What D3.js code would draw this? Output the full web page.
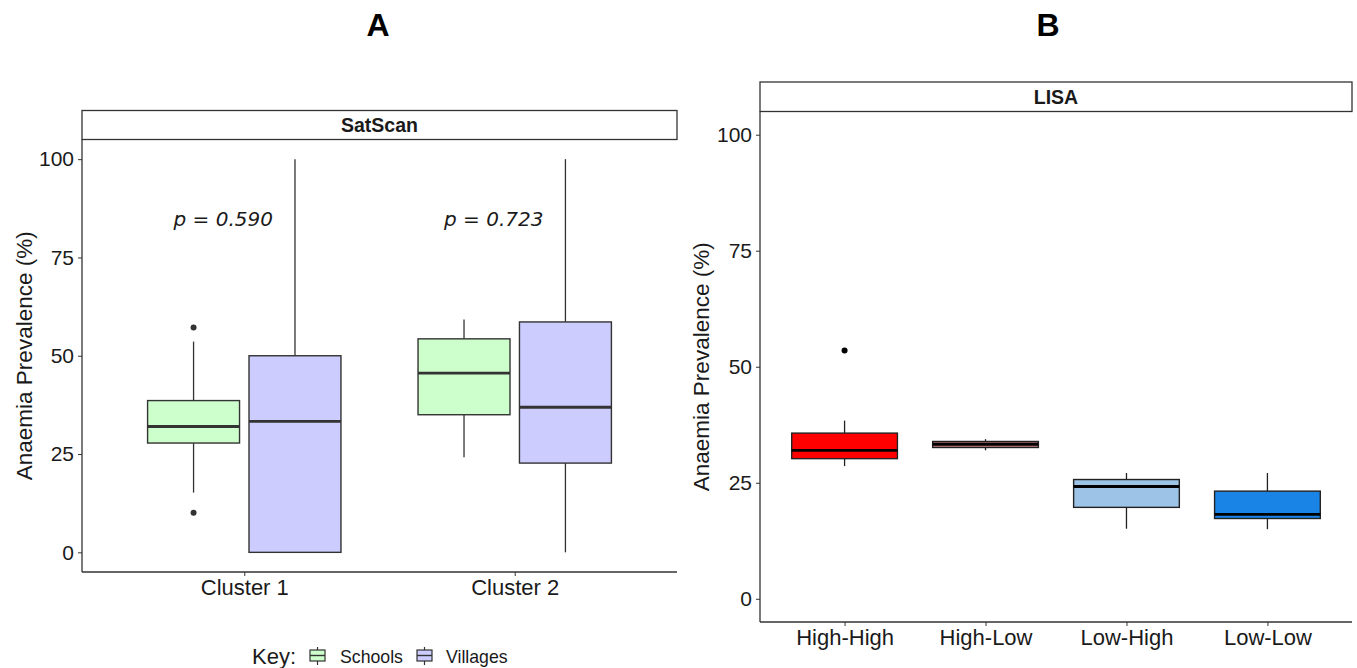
<!DOCTYPE html>
<html>
<head>
<meta charset="utf-8">
<script src="https://cdn.jsdelivr.net/npm/d3@7"></script>
<style>
  html, body { margin: 0; padding: 0; background: #ffffff; }
  svg { display: block; }
</style>
</head>
<body>
<svg id="chart" width="1357" height="668"></svg>
<script>
// ---------- DATA ----------
const clustersA = ["Cluster 1", "Cluster 2"];
const groupsA = ["Schools", "Villages"];
// [lower whisker, Q1, median, Q3, upper whisker]
const schoolsStats = [[15.2, 27.8, 32.0, 38.6, 53.6], [24.2, 35.0, 45.6, 54.3, 59.2]];
const villagesStats = [[0, 0, 33.3, 50.0, 100], [0, 22.7, 36.9, 58.6, 100]];
const schoolsOutliers = [[57.2, 10.1], []];
const villagesOutliers = [[], []];
const pLabels = ["p = 0.590", "p = 0.723"];
const pLabelValue = 84.7;
const groupColors = ["#CCFFCC", "#CCCCFF"];

const lisaCats = ["High-High", "High-Low", "Low-High", "Low-Low"];
const lisaStats = [[28.6, 30.2, 32.0, 35.7, 38.4], [32.0, 32.6, 33.3, 33.9, 34.4], [15.1, 19.7, 24.2, 25.7, 27.1], [15.0, 17.3, 18.2, 23.2, 27.1]];
const lisaOutliers = [[53.5], [], [], []];
const lisaColors = ["#FF0000", "#C27C7C", "#9DC3E6", "#1A84E6"];

const yTicks = [0, 25, 50, 75, 100];
const yTitle = "Anaemia Prevalence (%)";

// ---------- DRAW ----------
const SANS = "'Liberation Sans', Arial, Helvetica, sans-serif";
const svg = d3.select("#chart").style("font-family", SANS);

function drawBox(g, cx, w, s, fill, stroke, medStroke, outliers, y, outColor) {
  const [lo, q1, med, q3, hi] = s;
  g.append("line").attr("x1", cx).attr("x2", cx).attr("y1", y(hi)).attr("y2", y(q3))
    .attr("stroke", stroke).attr("stroke-width", 1.3);
  g.append("line").attr("x1", cx).attr("x2", cx).attr("y1", y(q1)).attr("y2", y(lo))
    .attr("stroke", stroke).attr("stroke-width", 1.3);
  g.append("rect").attr("x", cx - w / 2).attr("width", w)
    .attr("y", y(q3)).attr("height", Math.max(0, y(q1) - y(q3)))
    .attr("fill", fill).attr("stroke", stroke).attr("stroke-width", 1.4);
  g.append("line").attr("x1", cx - w / 2).attr("x2", cx + w / 2).attr("y1", y(med)).attr("y2", y(med))
    .attr("stroke", medStroke).attr("stroke-width", 2.8);
  outliers.forEach(o => {
    g.append("circle").attr("cx", cx).attr("cy", y(o)).attr("r", 3).attr("fill", outColor);
  });
}

function panel(opts) {
  const { x0, x1, top, bottom, stripTop, stripLabel, cats, titleX } = opts;
  const g = svg.append("g");
  const y = d3.scaleLinear().domain([-5, 105]).range([bottom, top]);
  const x = d3.scalePoint().domain(cats).range([x0, x1]).padding(0.6);

  // strip
  g.append("rect").attr("x", x0).attr("y", stripTop).attr("width", x1 - x0).attr("height", top - stripTop)
    .attr("fill", "#ffffff").attr("stroke", "#333333").attr("stroke-width", 1.3);
  g.append("text").attr("x", (x0 + x1) / 2).attr("y", (stripTop + top) / 2 + 7)
    .attr("text-anchor", "middle").style("font-size", "19.5px").style("font-weight", "bold")
    .style("font-family", SANS).attr("fill", "#1a1a1a").text(stripLabel);

  // y axis
  const yAxis = d3.axisLeft(y).tickValues(yTicks).tickSize(4).tickPadding(4);
  const ya = g.append("g").attr("transform", `translate(${x0},0)`).call(yAxis);
  ya.select(".domain").attr("stroke", "#333333").attr("stroke-width", 1.3).attr("d", `M0,${top}V${bottom}`);
  ya.selectAll(".tick line").attr("stroke", "#333333");
  ya.selectAll(".tick text").style("font-size", "21px").attr("fill", "#1a1a1a").style("font-family", SANS);

  // x axis
  const xAxis = d3.axisBottom(x).tickSize(4).tickPadding(3);
  const xa = g.append("g").attr("transform", `translate(0,${bottom})`).call(xAxis);
  xa.select(".domain").attr("stroke", "#333333").attr("stroke-width", 1.3).attr("d", `M${x0},0H${x1}`);
  xa.selectAll(".tick line").attr("stroke", "#333333");
  xa.selectAll(".tick text").style("font-size", "22px").attr("fill", "#1a1a1a").style("font-family", SANS);

  // y title
  g.append("text").attr("transform", `translate(${titleX},${(top + bottom) / 2}) rotate(-90)`)
    .attr("text-anchor", "middle").style("font-size", "22.5px").style("font-family", SANS)
    .attr("fill", "#1a1a1a").text(yTitle);

  return { g, x, y };
}

// Panel A
const A = panel({ x0: 82, x1: 677, top: 139.5, bottom: 572, stripTop: 110.5, stripLabel: "SatScan",
  cats: clustersA, titleX: 32 });
const stepA = A.x.step();
const boxWA = stepA * 0.34;
const offA = stepA * 0.1875;
clustersA.forEach((c, i) => {
  const cx = A.x(c);
  drawBox(A.g, cx - offA, boxWA, schoolsStats[i], groupColors[0], "#333333", "#333333", schoolsOutliers[i], A.y, "#333333");
  drawBox(A.g, cx + offA, boxWA, villagesStats[i], groupColors[1], "#333333", "#333333", villagesOutliers[i], A.y, "#333333");
  A.g.append("text").attr("x", cx - 21).attr("y", A.y(pLabelValue) + 7)
    .attr("text-anchor", "middle").style("font-size", "20px").style("font-style", "italic")
    .style("font-family", "'DejaVu Sans', Verdana, sans-serif").attr("fill", "#1a1a1a").text(pLabels[i]);
});

// Panel B
const B = panel({ x0: 760, x1: 1352, top: 111.5, bottom: 622, stripTop: 82, stripLabel: "LISA",
  cats: lisaCats, titleX: 709 });
const boxWB = B.x.step() * 0.75;
lisaCats.forEach((c, i) => {
  drawBox(B.g, B.x(c), boxWB, lisaStats[i], lisaColors[i], "#222222", "#000000", lisaOutliers[i], B.y, "#000000");
});

// Panel titles
svg.append("text").attr("x", 378).attr("y", 36).attr("text-anchor", "middle")
  .style("font-size", "32px").style("font-weight", "bold").attr("fill", "#000").text("A");
svg.append("text").attr("x", 1048).attr("y", 36).attr("text-anchor", "middle")
  .style("font-size", "32px").style("font-weight", "bold").attr("fill", "#000").text("B");

// Legend
const leg = svg.append("g");
leg.append("text").attr("x", 252).attr("y", 664).style("font-size", "22px").attr("fill", "#1a1a1a").text("Key:");
const legX = [310, 417];
const legTextX = [340, 446];
groupsA.forEach((gname, i) => {
  const cx = legX[i] + 7.5;
  leg.append("line").attr("x1", cx).attr("x2", cx).attr("y1", 647).attr("y2", 665)
    .attr("stroke", "#333333").attr("stroke-width", 1.2);
  leg.append("rect").attr("x", legX[i]).attr("y", 650).attr("width", 15).attr("height", 11)
    .attr("fill", groupColors[i]).attr("stroke", "#333333").attr("stroke-width", 1.2);
  leg.append("line").attr("x1", legX[i]).attr("x2", legX[i] + 15).attr("y1", 655.5).attr("y2", 655.5)
    .attr("stroke", "#333333").attr("stroke-width", 1.4);
  leg.append("text").attr("x", legTextX[i]).attr("y", 663).style("font-size", "17.7px").attr("fill", "#1a1a1a").text(gname);
});
</script>
</body>
</html>
